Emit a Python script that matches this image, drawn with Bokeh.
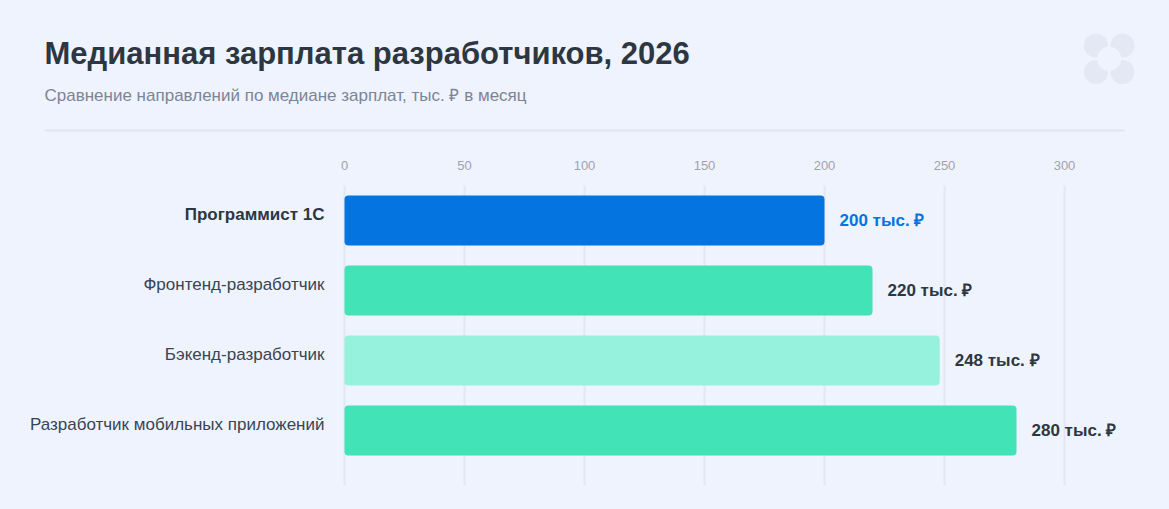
from bokeh.plotting import figure
from bokeh.models import Range1d, Label, ColumnDataSource, BoxAnnotation
from bokeh.core.properties import value
from bokeh.embed import file_html
from bokeh.resources import INLINE

# ---- data ----
categories = ["Программист 1С", "Фронтенд-разработчик", "Бэкенд-разработчик",
              "Разработчик мобильных приложений"]
values = [200, 220, 248, 280]
value_suffix = " тыс. ₽"
x_ticks = [0, 50, 100, 150, 200, 250, 300]
title_text = "Медианная зарплата разработчиков, 2026"
subtitle_text = "Сравнение направлений по медиане зарплат, тыс. ₽ в месяц"
highlight = "Программист 1С"

# ---- styles ----
BG = "#EFF3FE"
DARK = "#2D3741"
BLUE = "#0474E0"
bar_colors = [BLUE, "#43E3B8", "#96F2DC", "#43E3B8"]
label_colors = [BLUE if c == highlight else DARK for c in categories]
cat_styles = ["bold" if c == highlight else "normal" for c in categories]
cat_colors = [DARK if c == highlight else "#3A4452" for c in categories]

FONT = value("Liberation Sans")
W, H = 1153, 493
PX_X = 2.4   # pixels per unit (x)
PX_Y = 70.0  # pixels per category (y)

def sx(px):  # canvas pixel -> data x
    return (px - 344) / PX_X

def sy(py):  # canvas pixel -> data y
    return (py - 220) / PX_Y

ypos = list(range(len(categories)))
src = ColumnDataSource(dict(
    y=ypos,
    cat=categories,
    val=values,
    val_text=[f"{v}{value_suffix}" for v in values],
    val_x=[v + 15 / PX_X for v in values],
    bar_color=bar_colors,
    lab_color=label_colors,
    cat_style=cat_styles,
    cat_color=cat_colors,
    cat_x=[sx(324)] * len(categories),
    cat_y=[i - 6 / PX_Y for i in ypos],
))
tick_src = ColumnDataSource(dict(
    x=x_ticks,
    label=[str(t) for t in x_ticks],
    y0=[sy(185)] * len(x_ticks),
    y1=[sy(485)] * len(x_ticks),
    ly=[sy(165)] * len(x_ticks),
))

p = figure(width=W, height=H,
           x_range=Range1d(sx(0), sx(W)), y_range=Range1d(sy(H), sy(0)),
           x_axis_location=None, y_axis_location=None,
           output_backend="svg", toolbar_location=None,
           min_border=0)
p.background_fill_color = BG
p.border_fill_color = BG
p.outline_line_color = None
p.grid.visible = False

# grid lines and tick labels
p.segment(x0="x", x1="x", y0="y0", y1="y1", source=tick_src,
          line_color="#E2E7F1", line_width=2)
p.text(x="x", y="ly", text="label", source=tick_src, text_font=FONT,
       text_font_size="13px", text_color="#9CA3AE",
       text_align="center", text_baseline="middle")

# bars
p.hbar(y="y", right="val", left=0, height=50 / PX_Y, source=src,
       fill_color="bar_color", line_color=None, border_radius=4)

# value labels
p.text(x="val_x", y="y", text="val_text", source=src,
       text_color="lab_color", text_font=FONT,
       text_font_size="17px", text_font_style="bold",
       text_baseline="middle", text_align="left")
# category labels
p.text(x="cat_x", y="cat_y", text="cat", source=src,
       text_color="cat_color", text_font=FONT,
       text_font_size="17px", text_font_style="cat_style",
       text_baseline="middle", text_align="right")

p.add_layout(Label(x=sx(44), y=sy(53), text=title_text, text_font="Liberation Sans",
                   text_font_size="31px", text_font_style="bold",
                   text_color=DARK, text_baseline="middle"))
p.add_layout(Label(x=sx(44), y=sy(95), text=subtitle_text, text_font="Liberation Sans",
                   text_font_size="17px", text_color="#7B8595",
                   text_baseline="middle"))

# separator
p.add_layout(BoxAnnotation(left=sx(44), right=sx(1124), top=sy(129), bottom=sy(131),
                           fill_color="#E0E5EE", fill_alpha=1, line_color=None))

# logo
p.scatter(x=[sx(1095.5), sx(1122), sx(1095.5), sx(1122)],
          y=[sy(45), sy(45), sy(71.5), sy(71.5)],
          marker="circle", size=24, fill_color="#E3E8F4", line_color=None)
p.scatter(x=[sx(1108.7)], y=[sy(58.3)], marker="circle", size=24,
          fill_color=BG, line_color=None)

html = file_html(p, INLINE)
html = html.replace("</head>", f"<style>body{{background:{BG};}}</style></head>", 1)
open("out.html", "w").write(html)
